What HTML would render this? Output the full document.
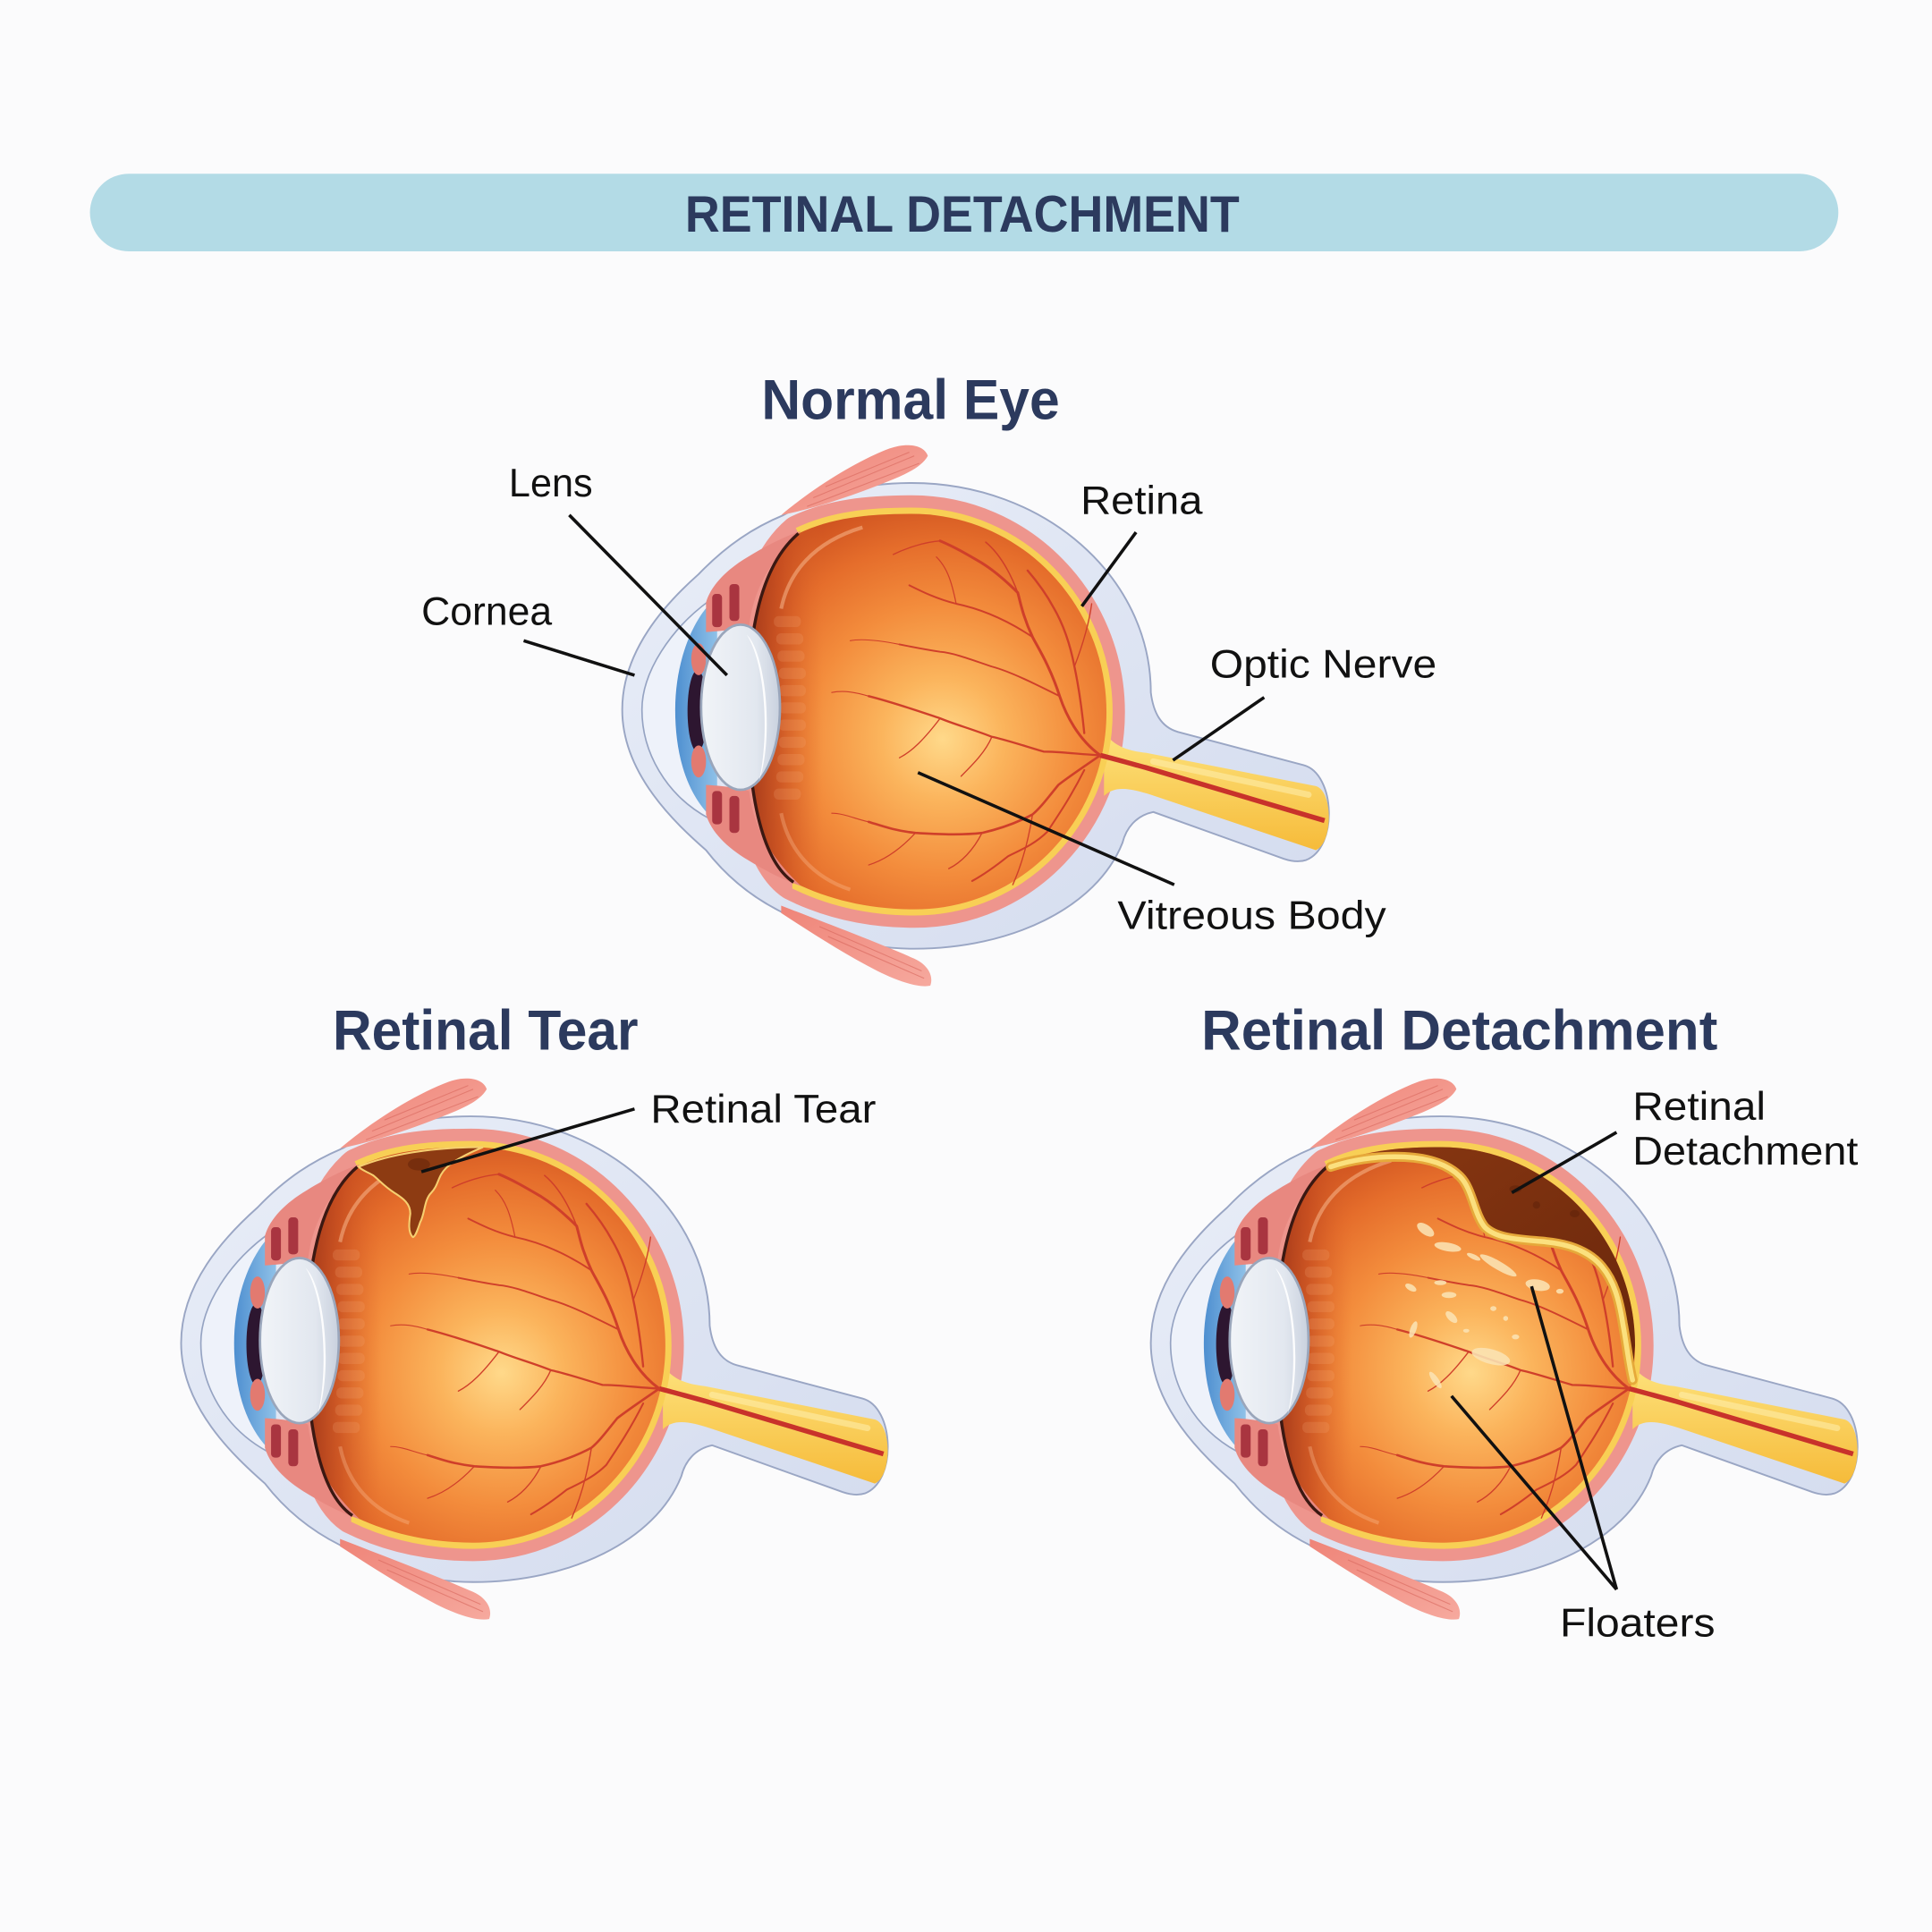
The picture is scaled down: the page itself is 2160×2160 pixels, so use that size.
<!DOCTYPE html>
<html>
<head>
<meta charset="utf-8">
<style>
html,body{margin:0;padding:0;background:#fbfbfc;}
svg{display:block;}
.t{font-family:"Liberation Sans","DejaVu Sans",sans-serif;font-weight:bold;fill:#2c3a5e;}
.l{font-family:"Liberation Sans","DejaVu Sans",sans-serif;fill:#111;font-size:32.5px;}
</style>
</head>
<body>
<svg xmlns="http://www.w3.org/2000/svg" width="2160" height="2160" viewBox="0 0 1568 1568">
<defs>
  <radialGradient id="vg" gradientUnits="userSpaceOnUse" cx="765" cy="600" r="200">
    <stop offset="0" stop-color="#ffd98a"/>
    <stop offset="0.25" stop-color="#fbb45c"/>
    <stop offset="0.55" stop-color="#f38c3c"/>
    <stop offset="0.8" stop-color="#e56d2b"/>
    <stop offset="1" stop-color="#cf5320"/>
  </radialGradient>
  <linearGradient id="sg" x1="0" y1="0" x2="1" y2="1">
    <stop offset="0" stop-color="#e9eef8"/>
    <stop offset="1" stop-color="#d3dbee"/>
  </linearGradient>
  <linearGradient id="front" gradientUnits="userSpaceOnUse" x1="605" y1="0" x2="668" y2="0">
    <stop offset="0" stop-color="#9b3318" stop-opacity="0.95"/>
    <stop offset="0.45" stop-color="#c24a1f" stop-opacity="0.7"/>
    <stop offset="1" stop-color="#e06a2c" stop-opacity="0"/>
  </linearGradient>
  <linearGradient id="ng" x1="0" y1="0" x2="0" y2="1">
    <stop offset="0" stop-color="#fde27c"/>
    <stop offset="1" stop-color="#f6bb3a"/>
  </linearGradient>
  <linearGradient id="bl" x1="0" y1="0" x2="1" y2="0">
    <stop offset="0" stop-color="#4e8fd0"/>
    <stop offset="1" stop-color="#8fc1e8"/>
  </linearGradient>
  <linearGradient id="mg" x1="0" y1="0" x2="1" y2="1">
    <stop offset="0" stop-color="#ef8478"/>
    <stop offset="1" stop-color="#f6a99e"/>
  </linearGradient>
  <linearGradient id="lg" x1="0" y1="0" x2="1" y2="0">
    <stop offset="0" stop-color="#f1f4f8"/>
    <stop offset="0.7" stop-color="#e2e7ef"/>
    <stop offset="1" stop-color="#c9d1de"/>
  </linearGradient>
  <linearGradient id="brown" x1="0" y1="0" x2="1" y2="1">
    <stop offset="0" stop-color="#8a3812"/>
    <stop offset="1" stop-color="#68260b"/>
  </linearGradient>
  <clipPath id="vclip"><path d="M 648,433 C 675,420 705,417 740,417 C 828,417 898,490 898,578 C 898,665 830,738 742,738 C 705,738 672,730 644,716 C 620,700 607,650 607,576 C 607,500 622,455 648,433 Z"/></clipPath>
  <clipPath id="rclip"><rect x="643" y="380" width="400" height="400"/></clipPath>

  <g id="eye">
    <!-- sclera / cornea / nerve sheath -->
    <path d="M 740,392 C 847,392 934,468 934,562 C 936,578 942,590 956,594 L 1058,621 C 1084,628 1086,688 1060,698 C 1054,700 1048,699 1042,697 L 936,659 C 922,662 914,672 911,684 C 890,737 820,770 742,770 C 700,770 662,758 634,740 C 610,728 590,712 573,690 C 548,668 505,628 505,576 C 505,528 540,490 567,466 C 590,442 612,428 636,418 C 668,400 700,392 740,392 Z" fill="url(#sg)" stroke="#9aa6c4" stroke-width="1.4"/>
    <!-- cornea inner -->
    <path d="M 575,488 C 545,510 521,545 521,576 C 521,610 540,645 575,664" fill="#eef2fa" stroke="#95a3c2" stroke-width="1.2"/>
    <!-- choroid -->
    <path d="M 648,433 C 675,420 705,417 740,417 C 828,417 898,490 898,578 C 898,665 830,738 742,738 C 705,738 672,730 644,716 C 620,700 607,650 607,576 C 607,500 622,455 648,433 Z" fill="none" stroke="#ee958d" stroke-width="30" stroke-linejoin="round"/>
    <!-- optic nerve core -->
    <path d="M 896,594 C 903,604 912,609 930,611 L 1068,638 C 1082,642 1082,684 1068,690 L 934,645 C 918,640 905,637 896,646 Z" fill="url(#ng)"/>
    <path d="M 936,618 L 1062,645" stroke="#fff0b0" stroke-width="5" opacity="0.55" stroke-linecap="round"/>
    <!-- retina -->
    <path d="M 648,433 C 675,420 705,417 740,417 C 828,417 898,490 898,578 C 898,665 830,738 742,738 C 705,738 672,730 644,716" fill="none" stroke="#f8cf55" stroke-width="10" clip-path="url(#rclip)"/>
    <!-- vitreous -->
    <path d="M 648,433 C 675,420 705,417 740,417 C 828,417 898,490 898,578 C 898,665 830,738 742,738 C 705,738 672,730 644,716 C 620,700 607,650 607,576 C 607,500 622,455 648,433 Z" fill="url(#vg)"/>
    <g clip-path="url(#vclip)">
      <rect x="600" y="410" width="70" height="340" fill="url(#front)"/>
      <g fill="#f7b589" opacity="0.17">
        <rect x="628" y="500" width="22" height="9" rx="4"/>
        <rect x="630" y="514" width="22" height="9" rx="4"/>
        <rect x="631" y="528" width="22" height="9" rx="4"/>
        <rect x="632" y="542" width="22" height="9" rx="4"/>
        <rect x="632" y="556" width="22" height="9" rx="4"/>
        <rect x="632" y="570" width="22" height="9" rx="4"/>
        <rect x="632" y="584" width="22" height="9" rx="4"/>
        <rect x="632" y="598" width="22" height="9" rx="4"/>
        <rect x="631" y="612" width="22" height="9" rx="4"/>
        <rect x="630" y="626" width="22" height="9" rx="4"/>
        <rect x="628" y="640" width="22" height="9" rx="4"/>
      </g>
    </g>
    <path d="M 634,494 C 640,465 660,440 700,428" stroke="#ffcaa2" stroke-width="3" fill="none" opacity="0.45"/>
    <path d="M 634,660 C 640,690 660,712 690,722" stroke="#ffcaa2" stroke-width="3" fill="none" opacity="0.3"/>
    <!-- central vessel -->
    <path d="M 893,613 C 905,616 915,619 930,623 L 1075,666" stroke="#c8322b" stroke-width="4" fill="none"/>
    <!-- veins -->
    <g fill="none" stroke="#cf3f2a" stroke-linecap="round" stroke-linejoin="round">
      <path d="M 893,613 C 875,600 865,580 860,565 C 852,540 842,525 838,517 C 830,500 828,488 826,481 C 815,470 805,462 797,457 C 785,450 775,444 763,439" stroke-width="2.2"/>
      <path d="M 838,517 C 820,505 800,495 776,490 C 760,486 748,480 738,475" stroke-width="1.4"/>
      <path d="M 860,565 C 840,555 820,545 805,541 C 790,536 775,530 763,529 C 750,527 740,525 730,523" stroke-width="1.4"/>
      <path d="M 826,481 C 820,465 812,450 800,440" stroke-width="1.1"/>
      <path d="M 880,595 C 878,575 875,555 872,541 C 868,520 862,505 855,493 C 848,480 840,470 834,463" stroke-width="1.7"/>
      <path d="M 893,613 C 875,612 860,610 847,610 C 830,605 815,600 805,598 C 790,592 775,588 763,583 C 745,577 725,570 705,565" stroke-width="1.7"/>
      <path d="M 893,613 C 880,622 868,630 859,637 C 850,648 845,655 838,661 C 825,668 810,673 797,676 C 780,678 760,677 743,676 C 725,674 715,670 705,667" stroke-width="1.9"/>
      <path d="M 880,625 C 870,645 860,660 850,675 C 840,685 828,690 818,695 C 808,703 798,710 789,715" stroke-width="1.5"/>
      <path d="M 805,598 C 800,610 790,620 780,630" stroke-width="1"/>
      <path d="M 838,661 C 835,680 830,700 822,718" stroke-width="1"/>
      <path d="M 797,676 C 790,690 780,700 770,705" stroke-width="1"/>
      <path d="M 763,583 C 750,600 740,610 730,615" stroke-width="1"/>
      <path d="M 763,439 C 750,440 735,445 725,450" stroke-width="1"/>
      <path d="M 743,676 C 730,690 718,698 705,702" stroke-width="0.9"/>
      <path d="M 776,490 C 772,470 768,460 760,452" stroke-width="0.9"/>
      <path d="M 872,541 C 880,520 884,505 886,490" stroke-width="1"/>
      <path d="M 730,523 C 715,520 700,518 690,520" stroke-width="0.8"/>
      <path d="M 705,565 C 695,562 685,560 675,562" stroke-width="0.8"/>
      <path d="M 705,667 C 695,665 685,660 675,660" stroke-width="0.8"/>
    </g>
    <!-- aqueous (blue) -->
    <path d="M 578,488 C 560,506 548,540 548,576 C 548,614 558,645 578,664 L 582,664 L 582,488 Z" fill="url(#bl)"/>
    <!-- pupil -->
    <ellipse cx="566" cy="577" rx="8" ry="33" fill="#2d1630"/>
    <!-- iris nubs -->
    <ellipse cx="567" cy="535" rx="6" ry="13" fill="#e27a70"/>
    <ellipse cx="567" cy="618" rx="6" ry="13" fill="#e27a70"/>
    <!-- ciliary bodies -->
    <path d="M 573,513 L 573,489 C 577,475 590,462 607,452 C 620,444 635,436 650,431 C 628,452 612,475 608,508 C 600,510 590,512 573,513 Z" fill="#e88880"/>
    <path d="M 573,637 L 573,661 C 577,675 590,688 607,698 C 620,706 635,714 650,719 C 628,698 612,675 608,642 C 600,640 590,638 573,637 Z" fill="#e88880"/>
    <rect x="578" y="482" width="8" height="27" rx="3" fill="#a93540"/>
    <rect x="592" y="474" width="8" height="30" rx="3" fill="#a93540"/>
    <rect x="578" y="642" width="8" height="27" rx="3" fill="#a93540"/>
    <rect x="592" y="646" width="8" height="30" rx="3" fill="#a93540"/>
    <!-- front boundary (behind lens) -->
    <path d="M 648,433 C 622,455 607,500 607,576 C 607,650 620,700 644,716" fill="none" stroke="#3b1812" stroke-width="2.5"/>
    <!-- lens -->
    <ellipse cx="601" cy="574" rx="32" ry="67" fill="url(#lg)" stroke="#9aa6bb" stroke-width="2"/>
    <path d="M 606,515 C 622,530 628,600 616,634 C 624,600 622,540 606,515 Z" fill="#ffffff" opacity="0.9"/>
    <!-- muscles -->
    <path d="M 634,418 C 660,396 695,374 722,364 C 736,359 750,361 753,370 C 748,379 735,385 720,391 C 690,403 660,413 634,418 Z" fill="url(#mg)"/>
    <g stroke="#d8675d" stroke-width="0.8" opacity="0.6" fill="none">
      <path d="M 660,404 L 742,370"/>
      <path d="M 670,395 L 738,367"/>
      <path d="M 655,411 L 746,376"/>
    </g>
    <path d="M 634,735 C 670,749 710,764 742,778 C 753,783 758,792 755,800 C 745,802 728,796 712,788 C 685,774 660,758 634,741 Z" fill="url(#mg)"/>
    <g stroke="#d8675d" stroke-width="0.8" opacity="0.6" fill="none">
      <path d="M 665,752 L 748,788"/>
      <path d="M 672,760 L 750,794"/>
    </g>
  </g>
</defs>

<rect x="0" y="0" width="1568" height="1568" fill="#fbfbfc"/>

<!-- Banner -->
<rect x="73" y="141" width="1419" height="63" rx="31.5" fill="#b3dbe6"/>
<text class="t" x="556" y="188" font-size="42" textLength="450" lengthAdjust="spacingAndGlyphs">RETINAL DETACHMENT</text>

<!-- Section titles -->
<text class="t" x="618" y="340" font-size="46" textLength="242" lengthAdjust="spacingAndGlyphs">Normal Eye</text>
<text class="t" x="270" y="852" font-size="46" textLength="248" lengthAdjust="spacingAndGlyphs">Retinal Tear</text>
<text class="t" x="975" y="852" font-size="46" textLength="419" lengthAdjust="spacingAndGlyphs">Retinal Detachment</text>

<!-- Normal eye -->
<use href="#eye"/>

<!-- Retinal tear eye -->
<use href="#eye" transform="translate(-358,514)"/>
<path d="M 291,947 C 315,937 350,931 392,931 C 380,936 368,942 362,948 C 355,955 356,962 350,968 C 344,974 345,985 341,992 C 339,998 337,1004 335,1004 C 331,1000 332,992 333,985 C 333,976 326,972 320,968 C 312,963 308,958 303,954 C 298,951 294,950 291,947 Z" fill="#8d3b12" stroke="#f6cf70" stroke-width="1.5"/>
<ellipse cx="340" cy="945" rx="9" ry="5" fill="#6e2a0c" opacity="0.7"/>

<!-- Retinal detachment eye -->
<use href="#eye" transform="translate(429,514)"/>
<path d="M 1080,947 C 1106,934 1134,931 1169,931 C 1257,931 1327,1004 1327,1092 L 1325,1120 C 1322,1108 1320,1090 1317,1074 C 1314,1055 1310,1040 1300,1028 C 1290,1016 1275,1010 1255,1008 C 1235,1006 1215,1006 1205,996 C 1196,985 1195,965 1185,955 C 1175,945 1160,940 1140,939 C 1115,938 1095,942 1080,947 Z" fill="url(#brown)"/>
<g fill="#5e220a" opacity="0.5">
  <ellipse cx="1247" cy="978" rx="3" ry="3"/>
  <ellipse cx="1278" cy="985" rx="4" ry="3"/>
  <ellipse cx="1230" cy="965" rx="5" ry="3"/>
</g>
<path d="M 1080,947 C 1095,942 1115,938 1140,939 C 1160,940 1175,945 1185,955 C 1195,965 1196,985 1205,996 C 1215,1006 1235,1006 1255,1008 C 1275,1010 1290,1016 1300,1028 C 1310,1040 1314,1055 1317,1074 C 1320,1090 1322,1108 1325,1120" fill="none" stroke="#e6a93a" stroke-width="8" stroke-linecap="round"/>
<path d="M 1080,947 C 1095,942 1115,938 1140,939 C 1160,940 1175,945 1185,955 C 1195,965 1196,985 1205,996 C 1215,1006 1235,1006 1255,1008 C 1275,1010 1290,1016 1300,1028 C 1310,1040 1314,1055 1317,1074 C 1320,1090 1322,1108 1325,1120" fill="none" stroke="#fbe07e" stroke-width="4" stroke-linecap="round"/>
<!-- floaters -->
<g fill="#fbe3b3" opacity="0.88">
  <ellipse cx="1157" cy="998" rx="8" ry="4" transform="rotate(35 1157 998)"/>
  <ellipse cx="1175" cy="1012" rx="11" ry="3.5" transform="rotate(10 1175 1012)"/>
  <ellipse cx="1216" cy="1027" rx="17" ry="3.5" transform="rotate(30 1216 1027)"/>
  <ellipse cx="1248" cy="1043" rx="10" ry="4.5" transform="rotate(10 1248 1043)"/>
  <ellipse cx="1145" cy="1045" rx="5" ry="2.5" transform="rotate(30 1145 1045)"/>
  <ellipse cx="1169" cy="1041" rx="5" ry="2"/>
  <ellipse cx="1176" cy="1051" rx="6" ry="2.5"/>
  <ellipse cx="1178" cy="1069" rx="6" ry="3" transform="rotate(45 1178 1069)"/>
  <ellipse cx="1147" cy="1079" rx="2.5" ry="7" transform="rotate(20 1147 1079)"/>
  <ellipse cx="1210" cy="1101" rx="16" ry="6" transform="rotate(15 1210 1101)"/>
  <ellipse cx="1165" cy="1120" rx="2.5" ry="8" transform="rotate(-35 1165 1120)"/>
  <ellipse cx="1266" cy="1048" rx="3" ry="2"/>
  <ellipse cx="1212" cy="1062" rx="2.5" ry="2"/>
  <ellipse cx="1222" cy="1070" rx="2" ry="2"/>
  <ellipse cx="1196" cy="1020" rx="6" ry="2" transform="rotate(25 1196 1020)"/>
  <ellipse cx="1230" cy="1085" rx="3" ry="2"/>
  <ellipse cx="1190" cy="1080" rx="2.5" ry="1.5"/>
</g>

<!-- Leader lines -->
<g stroke="#111" stroke-width="2.6" stroke-linecap="butt" fill="none">
  <line x1="462" y1="418" x2="590" y2="548"/>
  <line x1="425" y1="520" x2="515" y2="548"/>
  <line x1="922" y1="432" x2="878" y2="492"/>
  <line x1="1026" y1="566" x2="952" y2="617"/>
  <line x1="745" y1="627" x2="953" y2="718"/>
  <line x1="515" y1="900" x2="342" y2="951"/>
  <line x1="1312" y1="919" x2="1227" y2="968"/>
  <line x1="1178" y1="1133" x2="1312" y2="1290"/>
  <line x1="1243" y1="1044" x2="1312" y2="1290"/>
</g>

<!-- Labels -->
<text class="l" x="413" y="403" textLength="68" lengthAdjust="spacingAndGlyphs">Lens</text>
<text class="l" x="342" y="507" textLength="106" lengthAdjust="spacingAndGlyphs">Cornea</text>
<text class="l" x="877" y="417" textLength="99" lengthAdjust="spacingAndGlyphs">Retina</text>
<text class="l" x="982" y="550" textLength="184" lengthAdjust="spacingAndGlyphs">Optic Nerve</text>
<text class="l" x="907" y="754" textLength="218" lengthAdjust="spacingAndGlyphs">Vitreous Body</text>
<text class="l" x="528" y="911" textLength="183" lengthAdjust="spacingAndGlyphs">Retinal Tear</text>
<text class="l" x="1325" y="909" textLength="108" lengthAdjust="spacingAndGlyphs">Retinal</text>
<text class="l" x="1325" y="945" textLength="183" lengthAdjust="spacingAndGlyphs">Detachment</text>
<text class="l" x="1266" y="1328" textLength="126" lengthAdjust="spacingAndGlyphs">Floaters</text>
</svg>
</body>
</html>
